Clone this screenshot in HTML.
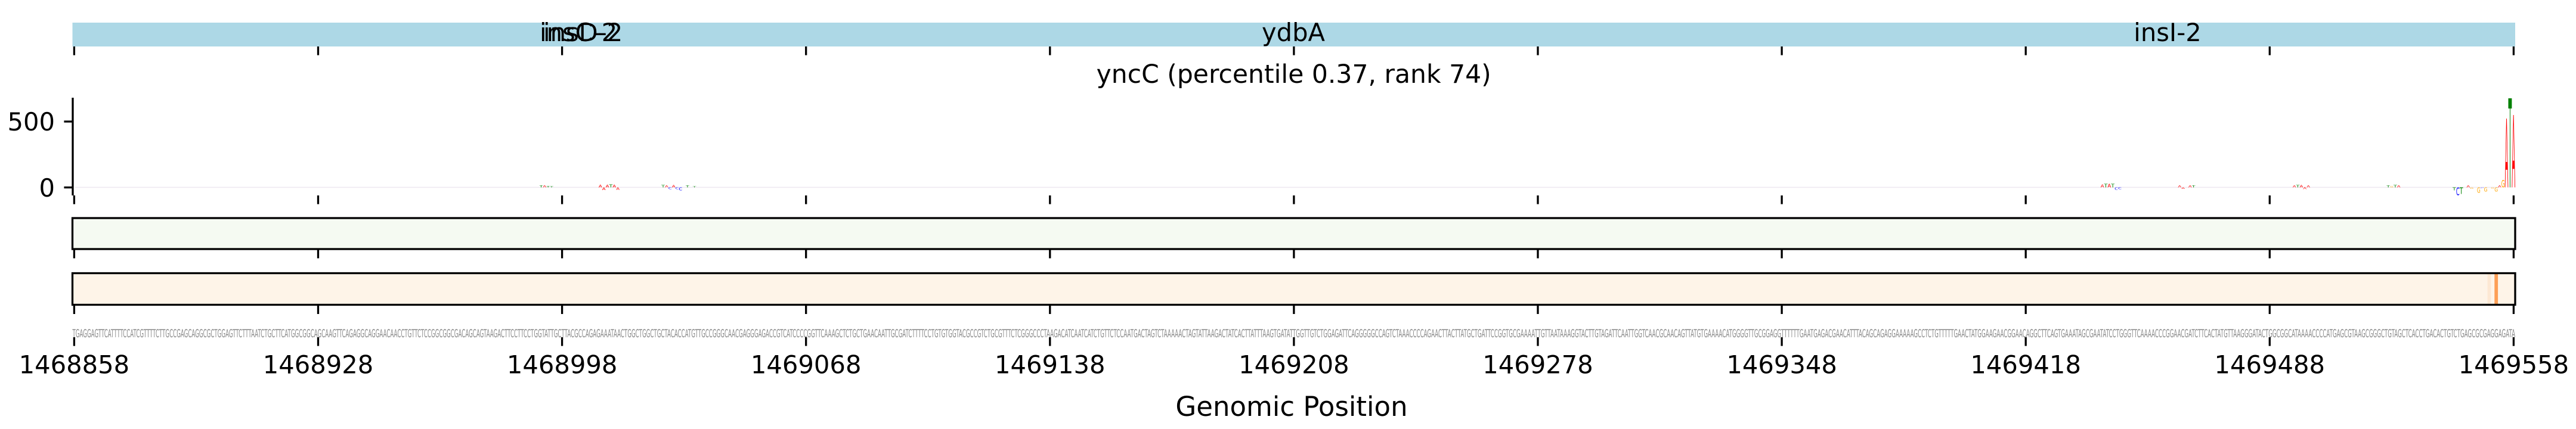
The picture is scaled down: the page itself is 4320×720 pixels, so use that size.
<!DOCTYPE html>
<html>
<head>
<meta charset="utf-8">
<style>
html,body{margin:0;padding:0;background:#fff;}
svg{display:block;}
text{font-family:"DejaVu Sans","Liberation Sans",sans-serif;}
</style>
</head>
<body>
<svg xmlns="http://www.w3.org/2000/svg" width="4320" height="720" viewBox="0 0 4320 720">
<rect x="0" y="0" width="4320" height="720" fill="#ffffff"/>

<!-- Gene track -->
<rect x="121.5" y="38" width="4096.5" height="40" fill="#add8e6"/>
<text x="905" y="69" font-size="41.67" fill="#000">insC-2</text>
<text x="911" y="69" font-size="41.67" fill="#000">insD-2</text>
<text x="2169" y="69" font-size="41.67" fill="#000" text-anchor="middle">ydbA</text>
<text x="3635" y="69" font-size="41.67" fill="#000" text-anchor="middle">insI-2</text>

<!-- Title -->
<text x="2169.7" y="139" font-size="42.5" fill="#000" text-anchor="middle">yncC (percentile 0.37, rank 74)</text>

<!-- Logo axis -->
<line x1="122" y1="164" x2="122" y2="328" stroke="#000" stroke-width="3.3"/>
<line x1="107.4" y1="204" x2="122" y2="204" stroke="#000" stroke-width="3.3"/>
<line x1="107.4" y1="314.6" x2="122" y2="314.6" stroke="#000" stroke-width="3.3"/>
<text x="92" y="219" font-size="41.67" fill="#000" text-anchor="end">500</text>
<text x="92" y="330" font-size="41.67" fill="#000" text-anchor="end">0</text>

<!-- faint baseline letters -->
<rect x="126" y="313.6" width="4066" height="1.6" fill="#d9cfe0" opacity="0.45"/>

<!-- small logo letters -->
<g font-size="10">
<text transform="translate(904.6,314.5) scale(0.956,0.41)" fill="#008000">T</text>
<text transform="translate(910.4,314.5) scale(0.854,0.41)" fill="#ff0000">A</text>
<text transform="translate(916.3,314.5) scale(0.956,0.34)" fill="#008000">T</text>
<text transform="translate(922.1,314.5) scale(0.956,0.27)" fill="#008000">T</text>

<text transform="translate(1003.9,314.5) scale(0.854,0.62)" fill="#ff0000">A</text>
<text transform="translate(1009.8,319) scale(0.854,0.62)" fill="#ff0000">A</text>
<text transform="translate(1015.6,314.5) scale(0.854,0.62)" fill="#ff0000">A</text>
<text transform="translate(1021.5,314.5) scale(0.956,0.69)" fill="#008000">T</text>
<text transform="translate(1027.3,314.5) scale(0.854,0.62)" fill="#ff0000">A</text>
<text transform="translate(1033.2,318.5) scale(0.854,0.55)" fill="#ff0000">A</text>

<text transform="translate(1109.1,314.5) scale(0.956,0.55)" fill="#008000">T</text>
<text transform="translate(1115.0,314.5) scale(0.854,0.48)" fill="#ff0000">A</text>
<text transform="translate(1120.8,317.5) scale(0.837,0.41)" fill="#0000ff">C</text>
<text transform="translate(1126.7,314.5) scale(0.854,0.55)" fill="#ff0000">A</text>
<text transform="translate(1132.5,317.5) scale(0.837,0.41)" fill="#0000ff">C</text>
<text transform="translate(1138.4,319.5) scale(0.837,0.69)" fill="#0000ff">C</text>
<text transform="translate(1150.0,314.5) scale(0.956,0.41)" fill="#008000">T</text>
<text transform="translate(1161.7,314.5) scale(0.956,0.3)" fill="#008000">T</text>

<text transform="translate(3522.7,314.5) scale(0.854,0.69)" fill="#ff0000">A</text>
<text transform="translate(3528.6,314.5) scale(0.956,0.82)" fill="#008000">T</text>
<text transform="translate(3534.4,314.5) scale(0.854,0.82)" fill="#ff0000">A</text>
<text transform="translate(3540.3,314.5) scale(0.956,0.82)" fill="#008000">T</text>
<text transform="translate(3546.1,318.5) scale(0.837,0.55)" fill="#0000ff">C</text>
<text transform="translate(3552.0,317.5) scale(0.837,0.41)" fill="#0000ff">C</text>

<text transform="translate(3652.4,314.5) scale(0.854,0.41)" fill="#ff0000">A</text>
<text transform="translate(3658.2,317) scale(0.854,0.34)" fill="#ff0000">A</text>
<text transform="translate(3669.9,314.5) scale(0.854,0.41)" fill="#ff0000">A</text>
<text transform="translate(3675.8,314.5) scale(0.956,0.41)" fill="#008000">T</text>

<text transform="translate(3844.8,314.5) scale(0.854,0.41)" fill="#ff0000">A</text>
<text transform="translate(3850.6,314.5) scale(0.956,0.55)" fill="#008000">T</text>
<text transform="translate(3856.5,314.5) scale(0.854,0.55)" fill="#ff0000">A</text>
<text transform="translate(3862.3,317.5) scale(0.854,0.41)" fill="#ff0000">A</text>
<text transform="translate(3868.2,314.5) scale(0.854,0.41)" fill="#ff0000">A</text>

<text transform="translate(4002.3,314.5) scale(0.956,0.41)" fill="#008000">T</text>
<text transform="translate(4008.1,314.5) scale(0.754,0.3)" fill="#ffa500">G</text>
<text transform="translate(4014.0,314.5) scale(0.956,0.55)" fill="#008000">T</text>
<text transform="translate(4019.8,314.5) scale(0.854,0.41)" fill="#ff0000">A</text>

<text transform="translate(4113.0,319.5) scale(0.956,0.69)" fill="#008000">T</text>
<text transform="translate(4118.9,327.5) scale(0.837,1.78)" fill="#0000ff">C</text>
<text transform="translate(4124.7,325.5) scale(0.956,1.51)" fill="#008000">T</text>
<text transform="translate(4136.4,314.5) scale(0.854,0.48)" fill="#ff0000">A</text>
<text transform="translate(4142.3,317) scale(0.754,0.34)" fill="#ffa500">G</text>
<text transform="translate(4153.9,323.5) scale(0.754,1.23)" fill="#ffa500">G</text>
<text transform="translate(4159.8,316) scale(0.837,0.2)" fill="#0000ff">C</text>
<text transform="translate(4165.6,321.5) scale(0.754,0.96)" fill="#ffa500">G</text>
<text transform="translate(4177.3,316.5) scale(0.754,0.27)" fill="#ffa500">G</text>
<text transform="translate(4183.2,321.5) scale(0.754,0.96)" fill="#ffa500">G</text>
<text transform="translate(4189.0,314.5) scale(0.854,0.41)" fill="#ff0000">A</text>

<!-- peak -->
<text transform="translate(4194.8,314.5) scale(0.754,1.65)" fill="#ffa500">G</text>
<text transform="translate(4200.6,314.5) scale(0.854,15.84)" fill="#ff0000">A</text>
<text transform="translate(4206.5,314.5) scale(0.956,20.5)" fill="#008000">T</text>
<text transform="translate(4212.3,314.5) scale(0.854,16.67)" fill="#ff0000">A</text>
</g>

<!-- Green track -->
<rect x="121.5" y="366" width="4096.5" height="52" fill="#f5faf2" stroke="#000" stroke-width="3.3"/>

<!-- Orange track -->
<rect x="121.5" y="458.5" width="4096.5" height="53" fill="#fef4e8"/>
<rect x="4171.6" y="458.5" width="5.8" height="53" fill="#fde8d4"/>
<rect x="4183.3" y="458.5" width="5.8" height="53" fill="#fd9f56"/>
<rect x="121.5" y="458.5" width="4096.5" height="53" fill="none" stroke="#000" stroke-width="3.3"/>

<!-- Sequence -->
<text x="121.5" y="566" font-size="19" fill="#888888" textLength="4096.5" lengthAdjust="spacingAndGlyphs">TGAGGAGTTCATTTTCCATCGTTTTCTTGCCGAGCAGGCGCTGGAGTTCTTTAATCTGCTTCATGGCGGCAGCAAGTTCAGAGGCAGGAACAACCTGTTCTCCGGCGGCGACAGCAGTAAGACTTCCTTCCTGGTATTGCTTACGCCAGAGAAATAACTGGCTGGCTGCTACACCATGTTGCCGGGCAACGAGGGAGACCGTCATCCCCGGTTCAAAGCTCTGCTGAACAATTGCGATCTTTTCCTGTGTGGTACGCCGTCTGCGTTTCTCGGGCCCTAAGACATCAATCATCTGTTCTCCAATGACTAGTCTAAAAACTAGTATTAAGACTATCACTTATTTAAGTGATATTGGTTGTCTGGAGATTCAGGGGGCCAGTCTAAACCCCAGAACTTACTTATGCTGATTCCGGTGCGAAAATTGTTAATAAAGGTACTTGTAGATTCAATTGGTCAACGCAACAGTTATGTGAAAACATGGGGTTGCGGAGGTTTTTTGAATGAGACGAACATTTACAGCAGAGGAAAAAGCCTCTGTTTTTGAACTATGGAAGAACGGAACAGGCTTCAGTGAAATAGCGAATATCCTGGGTTCAAAACCCGGAACGATCTTCACTATGTTAAGGGATACTGGCGGCATAAAACCCCATGAGCGTAAGCGGGCTGTAGCTCACCTGACACTGTCTGAGCGCGAGGAGATA</text>

<!-- Ticks -->
<g stroke="#000" stroke-width="3.3">
<path d="M124.4 78V92.6 M533.5 78V92.6 M942.6 78V92.6 M1351.7 78V92.6 M1760.8 78V92.6 M2169.9 78V92.6 M2579 78V92.6 M2988.1 78V92.6 M3397.2 78V92.6 M3806.3 78V92.6 M4215.4 78V92.6"/>
<path d="M124.4 328V342.6 M533.5 328V342.6 M942.6 328V342.6 M1351.7 328V342.6 M1760.8 328V342.6 M2169.9 328V342.6 M2579 328V342.6 M2988.1 328V342.6 M3397.2 328V342.6 M3806.3 328V342.6 M4215.4 328V342.6"/>
<path d="M124.4 418V433.5 M533.5 418V433.5 M942.6 418V433.5 M1351.7 418V433.5 M1760.8 418V433.5 M2169.9 418V433.5 M2579 418V433.5 M2988.1 418V433.5 M3397.2 418V433.5 M3806.3 418V433.5 M4215.4 418V433.5"/>
<path d="M124.4 511.5V527 M533.5 511.5V527 M942.6 511.5V527 M1351.7 511.5V527 M1760.8 511.5V527 M2169.9 511.5V527 M2579 511.5V527 M2988.1 511.5V527 M3397.2 511.5V527 M3806.3 511.5V527 M4215.4 511.5V527"/>
<path d="M124.4 566V580.6 M533.5 566V580.6 M942.6 566V580.6 M1351.7 566V580.6 M1760.8 566V580.6 M2169.9 566V580.6 M2579 566V580.6 M2988.1 566V580.6 M3397.2 566V580.6 M3806.3 566V580.6 M4215.4 566V580.6"/>
</g>

<!-- X tick labels -->
<g font-size="41.67" fill="#000" text-anchor="middle">
<text x="124.4" y="626.5">1468858</text>
<text x="533.5" y="626.5">1468928</text>
<text x="942.6" y="626.5">1468998</text>
<text x="1351.7" y="626.5">1469068</text>
<text x="1760.8" y="626.5">1469138</text>
<text x="2169.9" y="626.5">1469208</text>
<text x="2579" y="626.5">1469278</text>
<text x="2988.1" y="626.5">1469348</text>
<text x="3397.2" y="626.5">1469418</text>
<text x="3806.3" y="626.5">1469488</text>
<text x="4215.4" y="626.5">1469558</text>
</g>

<!-- X label -->
<text x="2166" y="698" font-size="45" fill="#000" text-anchor="middle">Genomic Position</text>
</svg>
</body>
</html>
